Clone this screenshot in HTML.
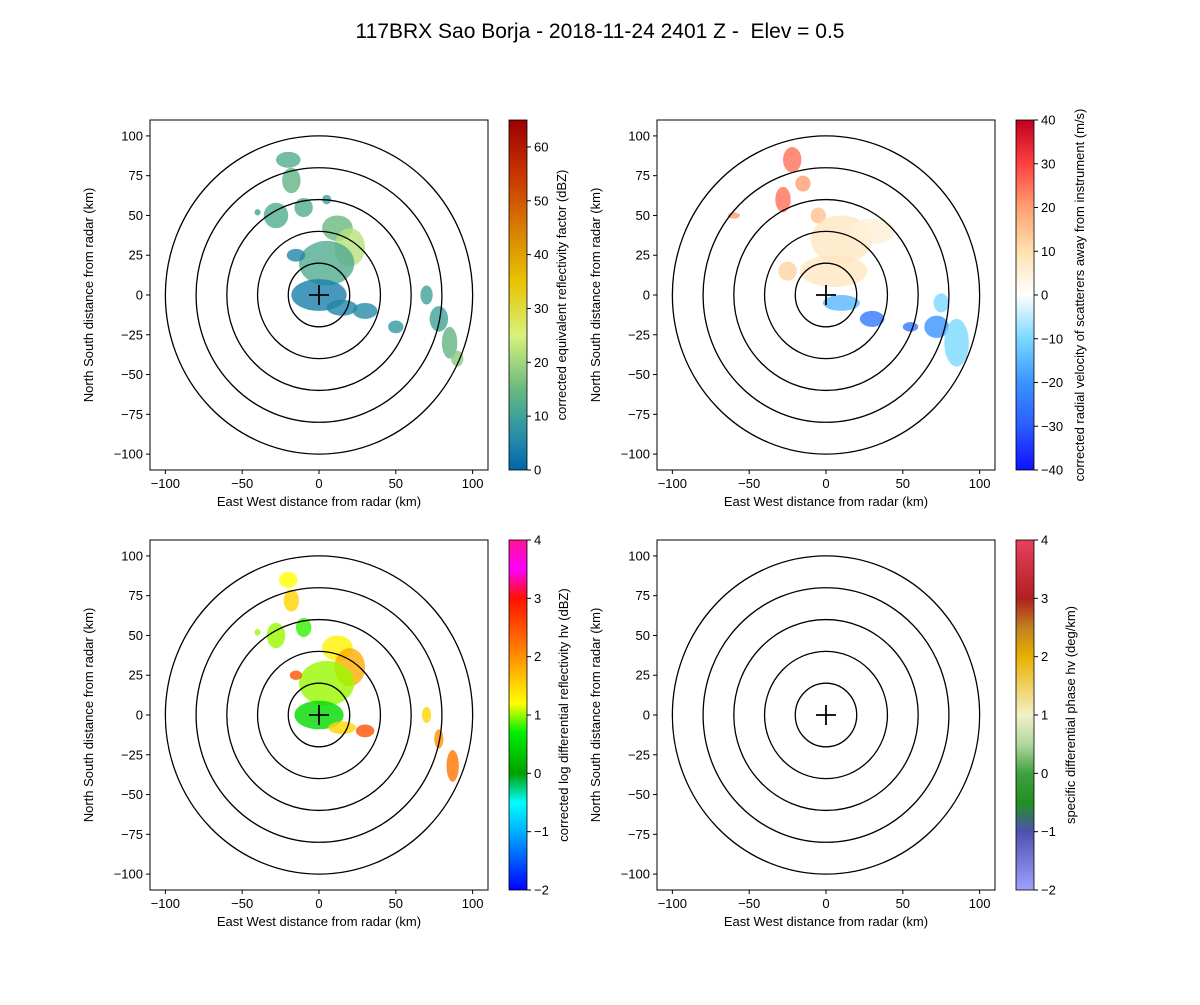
<!DOCTYPE html>
<html><head><meta charset="utf-8"><style>
body{margin:0;background:#fff}
svg text{font-family:"Liberation Sans",sans-serif;fill:#000}
</style></head><body>
<svg id="fig" width="1200" height="1000" xmlns="http://www.w3.org/2000/svg">
<rect width="1200" height="1000" fill="#fff"/>
<text x="600" y="38" font-size="21" text-anchor="middle" style="white-space:pre">117BRX Sao Borja - 2018-11-24 2401 Z -&#160; Elev = 0.5</text>
</svg>
<script>
// ---- data ----
const xTicks=[-100,-50,0,50,100];
const yTicks=[-100,-75,-50,-25,0,25,50,75,100];
const ringRadii=[20,40,60,80,100];
const panelTitles=["corrected equivalent reflectivity factor (dBZ)","corrected radial velocity of scatterers away from instrument (m/s)","corrected log differential reflectivity hv (dBZ)","specific differential phase hv (deg/km)"];
const cbRanges=[[0,65],[-40,40],[-2,4],[-2,4]];
const cbTicks=[[0,10,20,30,40,50,60],[-40,-30,-20,-10,0,10,20,30,40],[-2,-1,0,1,2,3,4],[-2,-1,0,1,2,3,4]];
// echo blobs: x km, y km, rx km, ry km, value
const reflBlobs=[[-20,85,8,5,12],[-18,72,6,8,14],[-28,50,8,8,12],[-10,55,6,6,12],[5,60,3,3,10],[12,42,10,8,15],[20,30,10,12,22],[5,20,18,14,12],[-15,25,6,4,5],[0,0,18,10,4],[15,-8,10,5,5],[30,-10,8,5,6],[50,-20,5,4,8],[70,0,4,6,10],[78,-15,6,8,10],[85,-30,5,10,14],[90,-40,4,5,18],[-40,52,2,2,10]];
const velBlobs=[[-22,85,6,8,25],[-28,60,5,8,25],[-15,70,5,5,20],[-5,50,5,5,15],[10,35,20,15,8],[30,40,15,8,5],[5,15,22,10,8],[-25,15,6,6,12],[10,-5,12,5,-15],[30,-15,8,5,-25],[55,-20,5,3,-25],[72,-20,8,7,-20],[85,-30,8,15,-10],[75,-5,5,6,-10],[-60,50,4,2,20]];
const zdrBlobs=[[-20,85,6,5,1.2],[-18,72,5,7,1.5],[-28,50,6,8,1],[-10,55,5,6,0.8],[12,42,10,8,1.3],[20,30,10,12,1.8],[5,20,18,14,1],[-15,25,4,3,2.5],[0,0,16,9,0.5],[15,-8,9,4,1.5],[30,-10,6,4,2.5],[70,0,3,5,1.5],[78,-15,3,6,2],[87,-32,4,10,2.2],[-40,52,2,2,1]];
const kdpBlobs=[];
const allBlobs=[reflBlobs,velBlobs,zdrBlobs,kdpBlobs];
// colormaps
const cmaps=[
[[0,"#0065a8"],[5,"#1f86aa"],[10,"#3fa29a"],[15,"#69b97f"],[25,"#d7f27b"],[35,"#e8c400"],[45,"#d87c00"],[55,"#c83400"],[65,"#9a0000"]],
[[-40,"#1010ff"],[-30,"#2a5cff"],[-20,"#3a94ff"],[-10,"#7ad8ff"],[0,"#ffffff"],[10,"#ffe0b0"],[20,"#ffa070"],[30,"#ff4040"],[40,"#c00020"]],
[[-2,"#0000ff"],[-1,"#00b0ff"],[-0.5,"#00ffff"],[0,"#00a000"],[0.7,"#00f000"],[1.2,"#ffff00"],[2,"#ff9000"],[3,"#ff1000"],[3.5,"#ff00ff"],[4,"#ff1493"]],
[[-2,"#a0a0ff"],[-1,"#5050b0"],[-0.5,"#209020"],[0,"#40a040"],[0.5,"#b0d8a0"],[1,"#f2f0c8"],[1.5,"#f0d060"],[2,"#e8b000"],[2.5,"#c08020"],[3,"#b02020"],[4,"#e84060"]]];
// ---- layout ----
const panels=[{x0:150,y0:120},{x0:657,y0:120},{x0:150,y0:540},{x0:657,y0:540}];
const cbLabelOff=[39,50,41,41];
const W=338,H=350,NS="http://www.w3.org/2000/svg";
const svg=document.getElementById('fig');
function el(t,a,p){const e=document.createElementNS(NS,t);for(const k in a)e.setAttribute(k,a[k]);(p||svg).appendChild(e);return e;}
function hex(c){return [1,3,5].map(i=>parseInt(c.substr(i,2),16));}
function cmap(stops,v){if(v<=stops[0][0])return stops[0][1];for(let i=1;i<stops.length;i++){if(v<=stops[i][0]){const t=(v-stops[i-1][0])/(stops[i][0]-stops[i-1][0]);const a=hex(stops[i-1][1]),b=hex(stops[i][1]);return `rgb(${a.map((x,j)=>Math.round(x+(b[j]-x)*t)).join(',')})`;}}return stops[stops.length-1][1];}
panels.forEach((p,pi)=>{
  const g=el('g',{},svg);
  
  
  const sx=v=>p.x0+(v+110)/220*W, sy=v=>p.y0+H-(v+110)/220*H;
  const kx=W/220, ky=H/220;
  allBlobs[pi].forEach(b=>{
    const e=el('ellipse',{cx:sx(b[0]),cy:sy(b[1]),rx:b[2]*kx,ry:b[3]*ky,fill:cmap(cmaps[pi],b[4]),opacity:0.8},g);
    
    
  });
  ringRadii.forEach(r=>{
    const c=el('ellipse',{cx:sx(0),cy:sy(0),rx:r*kx,ry:r*ky,fill:'none',stroke:'#000','stroke-width':1.3},g);
    
    
  });
  el('path',{d:`M${sx(0)-10} ${sy(0)}h20M${sx(0)} ${sy(0)-10}v20`,stroke:'#000','stroke-width':1.8},g);
  const fr=el('rect',{x:p.x0,y:p.y0,width:W,height:H,fill:'none',stroke:'#000','stroke-width':1},g);
  
  
  xTicks.forEach(t=>{el('line',{x1:sx(t),x2:sx(t),y1:p.y0+H,y2:p.y0+H+4,stroke:'#000'},g);
    const tx=el('text',{x:sx(t),y:p.y0+H+18,'font-size':13,'text-anchor':'middle'},g);tx.textContent=t<0?'−'+(-t):t;
    });
  yTicks.forEach(t=>{el('line',{x1:p.x0-4,x2:p.x0,y1:sy(t),y2:sy(t),stroke:'#000'},g);
    const tx=el('text',{x:p.x0-7,y:sy(t)+4.5,'font-size':13,'text-anchor':'end'},g);tx.textContent=t<0?'−'+(-t):t;
    });
  const xl=el('text',{x:p.x0+W/2,y:p.y0+H+36,'font-size':13,'text-anchor':'middle'},g);xl.textContent='East West distance from radar (km)';
  
  const yl=el('text',{x:0,y:0,'font-size':13,'text-anchor':'middle',transform:`translate(${p.x0-57},${p.y0+H/2}) rotate(-90)`},g);yl.textContent='North South distance from radar (km)';
  
  // colorbar
  const cx=p.x0+359,cw=18,[lo,hi]=cbRanges[pi];
  const gid='grad'+pi;const lg=el('linearGradient',{id:gid,x1:0,y1:1,x2:0,y2:0},g);
  cmaps[pi].forEach(s=>el('stop',{offset:(s[0]-lo)/(hi-lo),'stop-color':s[1]},lg));
  const cb=el('rect',{x:cx,y:p.y0,width:cw,height:H,fill:`url(#${gid})`,stroke:'#000','stroke-width':0.8},g);
  
  const cy=v=>p.y0+H-(v-lo)/(hi-lo)*H;
  cbTicks[pi].forEach(t=>{el('line',{x1:cx+cw,x2:cx+cw+4,y1:cy(t),y2:cy(t),stroke:'#000'},g);
    const tx=el('text',{x:cx+cw+7,y:cy(t)+4.5,'font-size':13},g);tx.textContent=t<0?'−'+(-t):t;
    });
  const cl=el('text',{x:0,y:0,'font-size':13,'text-anchor':'middle',transform:`translate(${cx+cw+cbLabelOff[pi]},${p.y0+H/2}) rotate(-90)`},g);cl.textContent=panelTitles[pi];
  
});
</script>
</body></html>
